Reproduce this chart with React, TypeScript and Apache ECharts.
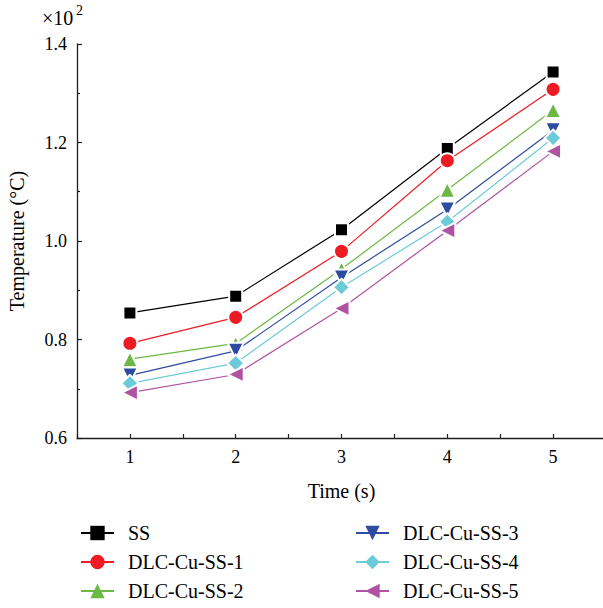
import React, { useEffect, useRef } from "react";
import * as echarts from "echarts";

const times = [1, 2, 3, 4, 5];
const seriesNames = ["SS", "DLC-Cu-SS-1", "DLC-Cu-SS-2", "DLC-Cu-SS-3", "DLC-Cu-SS-4", "DLC-Cu-SS-5"];
const ss = [0.854, 0.888, 1.023, 1.188, 1.343];
const dlc1 = [0.792, 0.845, 0.979, 1.163, 1.308];
const dlc2 = [0.760, 0.792, 0.943, 1.104, 1.266];
const dlc3 = [0.727, 0.777, 0.926, 1.064, 1.225];
const dlc4 = [0.711, 0.752, 0.906, 1.039, 1.209];
const dlc5 = [0.692, 0.729, 0.863, 1.021, 1.182];
const yTicks = [0.6, 0.8, 1.0, 1.2, 1.4];

const colors = ["#000000", "#ed1c24", "#6cb845", "#2e4c9f", "#6ccbd8", "#b052a3"];
const symbols = ["rect", "circle", "triangle", "triangle", "diamond", "triangle"];
const rotations = [0, 0, 0, 180, 0, 90];
const sizes = [13, 15, 16, 16, 17, 16];
const allData = [ss, dlc1, dlc2, dlc3, dlc4, dlc5];

const FONT = "Liberation Serif";

export default function App() {
  const ref = useRef<HTMLDivElement>(null);
  useEffect(() => {
    if (!ref.current) return;
    const chart = echarts.init(ref.current, undefined, { renderer: "svg" });
    const series = allData.map((d, i) => ({
      name: seriesNames[i],
      type: "line",
      data: d.map((v, j) => [times[j], v]),
      symbol: symbols[i],
      symbolRotate: rotations[i],
      symbolSize: sizes[i],
      lineStyle: { color: colors[i], width: 1.2 },
      itemStyle: { color: colors[i], borderColor: "#ffffff", borderWidth: 2 },
      z: 2 + i,
    }));
    const legendText = { fontFamily: FONT, fontSize: 20, color: "#000", lineHeight: 20, padding: [0, 0, 0, 9] };
    const legendCommon = {
      orient: "vertical",
      top: 523,
      padding: 0,
      itemWidth: 33,
      itemHeight: 18,
      itemGap: 9,
      itemStyle: { borderWidth: 0 },
      textStyle: legendText,
    };
    chart.setOption({
      animation: false,
      backgroundColor: "#ffffff",
      textStyle: { fontFamily: FONT },
      grid: { left: 77, top: 44, right: -3, bottom: 170, outerBoundsMode: "none", containLabel: false },
      xAxis: {
        type: "value",
        min: 0.5,
        max: 5.5,
        interval: 0.5,
        name: "Time (s)",
        nameLocation: "middle",
        nameGap: 43,
        nameTextStyle: { fontFamily: FONT, fontSize: 20, color: "#000" },
        axisLine: { onZero: false, lineStyle: { color: "#231f20", width: 1.3 } },
        axisTick: { inside: true, length: 4, lineStyle: { color: "#231f20", width: 1.2 } },
        axisLabel: {
          fontFamily: FONT,
          fontSize: 18,
          color: "#000",
          margin: 10,
          formatter: (v: number) => (Number.isInteger(v) && times.includes(v) ? String(v) : ""),
        },
        splitLine: { show: false },
      },
      yAxis: {
        type: "value",
        min: yTicks[0],
        max: yTicks[yTicks.length - 1],
        interval: 0.2,
        name: "Temperature (°C)",
        nameLocation: "middle",
        nameGap: 50,
        nameTextStyle: { fontFamily: FONT, fontSize: 20, color: "#000" },
        axisLine: { show: true, lineStyle: { color: "#231f20", width: 1.3 } },
        axisTick: { show: true, inside: true, length: 5, lineStyle: { color: "#231f20", width: 1.2 } },
        minorTick: { show: true, splitNumber: 2, length: 3, lineStyle: { color: "#231f20", width: 1.2 } },
        axisLabel: {
          fontFamily: FONT,
          fontSize: 18,
          color: "#000",
          margin: 10,
          formatter: (v: number) => v.toFixed(1),
        },
        splitLine: { show: false },
      },
      legend: [
        { ...legendCommon, data: seriesNames.slice(0, 3), left: 80 },
        { ...legendCommon, data: seriesNames.slice(3), left: 355 },
      ],
      graphic: [
        {
          type: "text",
          x: 42,
          y: 8,
          style: { text: "×10", fontFamily: FONT, fontSize: 20, fill: "#000" },
        },
        {
          type: "text",
          x: 76,
          y: 3,
          style: { text: "2", fontFamily: FONT, fontSize: 14, fill: "#000" },
        },
      ],
      series,
    });
    return () => chart.dispose();
  }, []);
  return <div ref={ref} style={{ width: 603, height: 608, position: "absolute", left: 0, top: 0 }} />;
}
